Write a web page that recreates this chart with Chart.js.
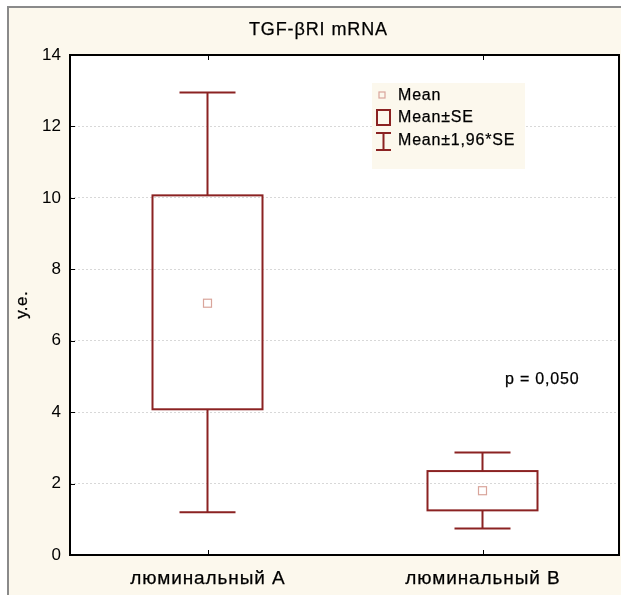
<!DOCTYPE html>
<html>
<head>
<meta charset="utf-8">
<script src="https://cdn.jsdelivr.net/npm/chart.js@4"></script>
<style>
html,body{margin:0;padding:0;background:#fff;}
#wrap{width:621px;height:595px;position:relative;}
</style>
</head>
<body>
<div id="wrap"><canvas id="c" width="621" height="595"></canvas></div>
<script>
const categories = ['люминальный А', 'люминальный В'];
const means = [7.05, 1.80];
const seLow = [4.08, 1.25];
const seHigh = [10.07, 2.35];
const ciLow = [1.20, 0.74];
const ciHigh = [12.95, 2.87];
const yTicks = [0, 2, 4, 6, 8, 10, 12, 14];
const titleText = 'TGF-βRI mRNA';
const yTitle = 'у.е.';
const legendLabels = ['Mean', 'Mean±SE', 'Mean±1,96*SE'];
const pText = 'p = 0,050';

const RED = '#8b2222';
const MEANC = '#d9a59b';
const CREAM = '#fcf8ed';
const FONT = 'Arial, "Liberation Sans", sans-serif';

function txt(ctx, s, x, y, size, spacing, align) {
  ctx.font = size + 'px ' + FONT;
  ctx.letterSpacing = spacing + 'px';
  ctx.textAlign = align || 'left';
  ctx.textBaseline = 'middle';
  let dx = 0;
  if (align === 'center') dx = spacing / 2;
  ctx.fillText(s, x + dx, y);
  ctx.strokeStyle = ctx.fillStyle;
  ctx.lineWidth = 0.25;
  ctx.strokeText(s, x + dx, y);
  ctx.letterSpacing = '0px';
}

const framePlugin = {
  id: 'frame',
  beforeDraw(chart) {
    const ctx = chart.ctx, a = chart.chartArea;
    ctx.save();
    ctx.fillStyle = '#fff';
    ctx.fillRect(0, 0, chart.width, chart.height);
    ctx.fillStyle = CREAM;
    ctx.fillRect(8, 8, chart.width - 8, chart.height - 8);
    ctx.strokeStyle = '#8a8a8a';
    ctx.lineWidth = 2;
    ctx.beginPath();
    ctx.moveTo(8, chart.height);
    ctx.lineTo(8, 7);
    ctx.lineTo(chart.width, 7);
    ctx.stroke();
    ctx.fillStyle = '#fff';
    ctx.fillRect(a.left, a.top, a.right - a.left, a.bottom - a.top);
    ctx.fillStyle = '#000';
    txt(ctx, titleText, 318, 30, 18, 0.9, 'center');
    ctx.save();
    ctx.translate(22, 305);
    ctx.rotate(-Math.PI / 2);
    txt(ctx, yTitle, 0, 0, 17, 0.6, 'center');
    ctx.restore();
    ctx.restore();
  },
  afterDatasetsDraw(chart) {
    const ctx = chart.ctx, a = chart.chartArea;
    const xs = chart.scales.x, ys = chart.scales.y;
    ctx.save();
    const capHalf = 28, boxHalf = 55;
    categories.forEach((c, i) => {
      const x = xs.getPixelForValue(i);
      const yCL = ys.getPixelForValue(ciLow[i]);
      const yCH = ys.getPixelForValue(ciHigh[i]);
      const ySL = ys.getPixelForValue(seLow[i]);
      const ySH = ys.getPixelForValue(seHigh[i]);
      ctx.strokeStyle = RED;
      ctx.lineWidth = 2;
      ctx.beginPath();
      ctx.moveTo(x, yCH); ctx.lineTo(x, ySH);
      ctx.moveTo(x, ySL); ctx.lineTo(x, yCL);
      ctx.moveTo(x - capHalf, yCH); ctx.lineTo(x + capHalf, yCH);
      ctx.moveTo(x - capHalf, yCL); ctx.lineTo(x + capHalf, yCL);
      ctx.stroke();
      ctx.strokeRect(x - boxHalf, ySH, boxHalf * 2, ySL - ySH);
      const ym = ys.getPixelForValue(means[i]);
      ctx.strokeStyle = MEANC;
      ctx.lineWidth = 1.2;
      ctx.strokeRect(x - 4, ym - 4, 8, 8);
      ctx.fillStyle = '#000';
      txt(ctx, c, x, 579, 19, 0.9, 'center');
    });
    ctx.strokeStyle = '#000';
    ctx.lineWidth = 1;
    ctx.beginPath();
    yTicks.forEach(v => {
      const y = Math.round(ys.getPixelForValue(v)) + 0.5;
      ctx.moveTo(a.left, y); ctx.lineTo(a.left + 5, y);
    });
    categories.forEach((c, i) => {
      const x = Math.round(xs.getPixelForValue(i)) + 0.5;
      ctx.moveTo(x, a.bottom); ctx.lineTo(x, a.bottom - 5);
      ctx.moveTo(x, a.top); ctx.lineTo(x, a.top + 5);
    });
    ctx.stroke();
    ctx.lineWidth = 2;
    ctx.strokeRect(a.left, a.top, a.right - a.left - 1, a.bottom - a.top);
    // legend
    ctx.fillStyle = CREAM;
    ctx.fillRect(372, 83, 153, 86);
    ctx.strokeStyle = MEANC;
    ctx.lineWidth = 1.2;
    ctx.strokeRect(379, 92, 6, 6);
    ctx.strokeStyle = RED;
    ctx.lineWidth = 2;
    ctx.strokeRect(377, 110, 13, 15);
    ctx.beginPath();
    ctx.moveTo(376, 133); ctx.lineTo(391, 133);
    ctx.moveTo(383.5, 133); ctx.lineTo(383.5, 150);
    ctx.moveTo(376, 150); ctx.lineTo(391, 150);
    ctx.stroke();
    ctx.fillStyle = '#000';
    txt(ctx, legendLabels[0], 398, 96, 16, 0.8);
    txt(ctx, legendLabels[1], 398, 118, 16, 0.8);
    txt(ctx, legendLabels[2], 398, 141, 16, 0.8);
    txt(ctx, pText, 505, 380, 16, 0.8);
    ctx.restore();
  }
};

new Chart(document.getElementById('c'), {
  type: 'bar',
  data: {
    labels: categories,
    datasets: [{ data: means, backgroundColor: 'rgba(0,0,0,0)', borderWidth: 0 }]
  },
  options: {
    responsive: false,
    animation: false,
    devicePixelRatio: 1,
    layout: { padding: { top: 55, right: 1, left: 0, bottom: 0 } },
    plugins: { legend: { display: false }, tooltip: { enabled: false }, title: { display: false } },
    scales: {
      x: {
        type: 'category',
        offset: true,
        grid: { display: false, drawTicks: false },
        border: { display: false },
        ticks: { display: false },
        afterFit(s) { s.height = 40; }
      },
      y: {
        min: 0, max: 14,
        afterBuildTicks(s) { s.ticks = yTicks.map(v => ({ value: v })); },
        grid: { color: '#d8d8d8', lineWidth: 1, drawTicks: false },
        border: { display: false, dash: [2, 2] },
        ticks: { color: '#000', font: { family: FONT, size: 17 }, padding: 9 },
        afterFit(s) { s.width = 70; }
      }
    }
  },
  plugins: [framePlugin]
});
</script>
</body>
</html>
